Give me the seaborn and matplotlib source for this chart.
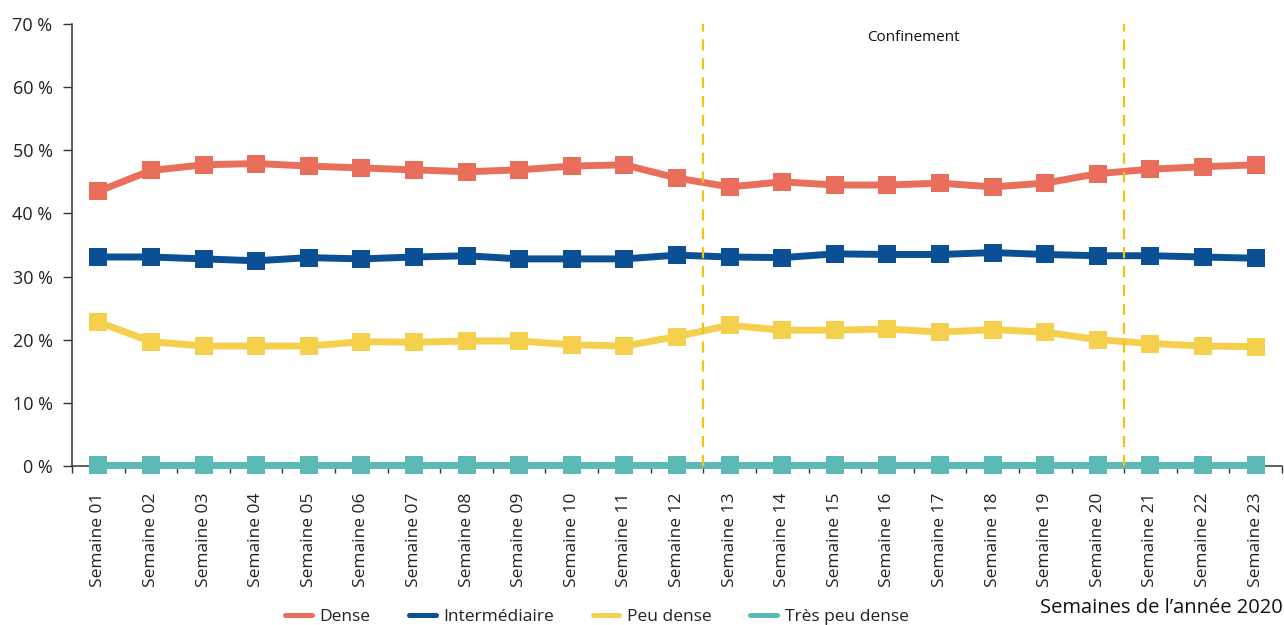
import numpy as np
import pandas as pd
import matplotlib
matplotlib.use("Agg")
import matplotlib.pyplot as plt
from matplotlib.lines import Line2D
from matplotlib.ticker import FixedLocator, FuncFormatter
import seaborn as sns

# Weekly share (%) of each density category, weeks 1-23 of 2020
weeks = [f"Semaine {i:02d}" for i in range(1, 24)]
dense = [43.5, 46.8, 47.7, 47.9, 47.5, 47.2, 46.9, 46.6, 46.9, 47.5, 47.7, 45.6,
         44.2, 45.0, 44.5, 44.5, 44.8, 44.2, 44.8, 46.3, 47.0, 47.4, 47.7]
intermediaire = [33.1, 33.1, 32.8, 32.5, 33.0, 32.8, 33.1, 33.3, 32.8, 32.8, 32.8, 33.4,
                 33.1, 33.0, 33.6, 33.5, 33.5, 33.8, 33.5, 33.3, 33.3, 33.1, 32.9]
peu_dense = [22.8, 19.7, 19.0, 19.0, 19.0, 19.7, 19.6, 19.8, 19.8, 19.2, 19.0, 20.5,
             22.3, 21.5, 21.5, 21.7, 21.2, 21.6, 21.2, 20.0, 19.4, 19.0, 18.9]
tres_peu_dense = [0.2] * 23

series_names = ["Dense", "Intermédiaire", "Peu dense", "Très peu dense"]
series_values = [dense, intermediaire, peu_dense, tres_peu_dense]
colors = ["#E96F5C", "#0B4F94", "#F5D04F", "#5BBAB5"]

confinement_bounds = [11.5, 19.5]  # between weeks 12/13 and 20/21

df = pd.concat(
    [pd.DataFrame({"pos": np.arange(len(weeks)), "semaine": weeks,
                   "valeur": vals, "serie": name})
     for name, vals in zip(series_names, series_values)],
    ignore_index=True,
)

sns.set_theme(style="white")
plt.rcParams["font.family"] = ["Open Sans", "DejaVu Sans"]
text_color = "#222222"

fig = plt.figure(figsize=(12.84, 6.25), dpi=100)
ax = fig.add_axes([72 / 1284, 1 - 466 / 625, (1282 - 72) / 1284, (466 - 24) / 625])

sns.lineplot(
    data=df, x="pos", y="valeur", hue="serie", style="serie",
    hue_order=series_names, style_order=series_names,
    palette=dict(zip(series_names, colors)),
    markers={n: "s" for n in series_names}, dashes=False,
    markersize=12.5, markeredgewidth=0, linewidth=5,
    legend=False, ax=ax,
)
# let the lowest series sit on top of the x axis without being cut
for line in ax.lines:
    line.set_clip_on(False)
    line.set_zorder(3)

for xb in confinement_bounds:
    ax.axvline(xb, color="#F2C411", linewidth=1.6, linestyle=(0, (5, 3.5)), zorder=5)

ax.text(np.mean(confinement_bounds), 67.9, "Confinement", ha="center", va="center",
        fontsize=11, color="#111111")

ax.set_xlim(-0.5, len(weeks) - 0.5)
ax.set_ylim(0, 70)

# y axis
ax.set_yticks(np.arange(0, 71, 10))
ax.yaxis.set_major_formatter(FuncFormatter(lambda v, _: f"{int(v)} %"))
ax.tick_params(axis="y", which="major", direction="out", length=6.5, width=1,
               color="#333333", pad=7.5, labelsize=13, labelcolor=text_color, left=True)

# x axis: tick marks between weeks, labels centred on weeks
ax.xaxis.set_major_locator(FixedLocator(np.arange(-0.5, len(weeks), 1.0)))
ax.xaxis.set_minor_locator(FixedLocator(np.arange(len(weeks))))
ax.set_xticklabels([], minor=False)
ax.set_xticklabels(weeks, minor=True, rotation=90)
ax.tick_params(axis="x", which="major", direction="out", length=5, width=1,
               color="#333333", bottom=True)
ax.tick_params(axis="x", which="minor", length=0, pad=19, labelsize=12.5,
               labelcolor=text_color, bottom=True)
ax.set_xlabel("")
ax.set_ylabel("")

for side in ["top", "right"]:
    ax.spines[side].set_visible(False)
for side in ["left", "bottom"]:
    ax.spines[side].set_color("#333333")
    ax.spines[side].set_linewidth(1.1)
    ax.spines[side].set_zorder(2)
ax.grid(False)

handles = [Line2D([0], [0], color=c, linewidth=3.6, solid_capstyle="round") for c in colors]
fig.legend(handles, series_names, loc="center left",
           bbox_to_anchor=(285 / 1284, 1 - 617 / 625), ncol=4, frameon=False,
           fontsize=12.5, labelcolor=text_color, handlelength=1.55, handletextpad=0.45,
           columnspacing=2.2, borderpad=0, borderaxespad=0)

fig.text(1283 / 1284, 1 - 608 / 625, "Semaines de l’année 2020", ha="right", va="center",
         fontsize=14.5, color="#111111")

fig.savefig("out.png", dpi=100, facecolor="white")
